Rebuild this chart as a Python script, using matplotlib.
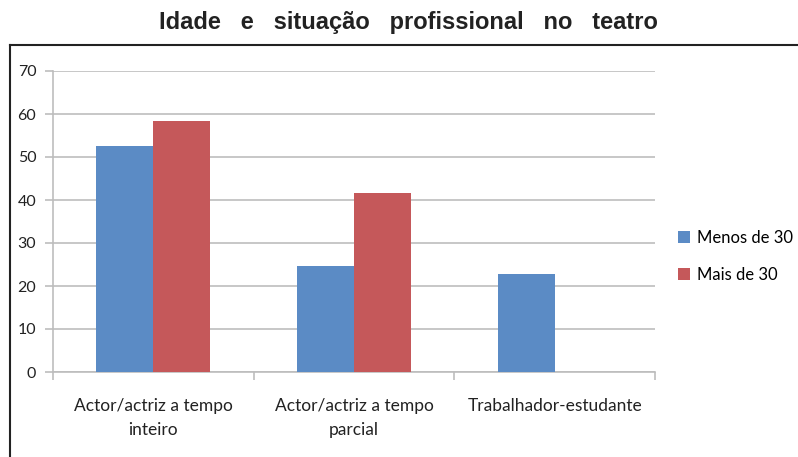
import matplotlib
matplotlib.use("Agg")
import matplotlib.pyplot as plt
from matplotlib.lines import Line2D
import numpy as np

categories = ["Actor/actriz a tempo\ninteiro", "Actor/actriz a tempo\nparcial", "Trabalhador-estudante"]
menos_30 = [52.6, 24.7, 22.8]
mais_30 = [58.4, 41.7, 0]
series_names = ["Menos de 30", "Mais de 30"]
yticks = [0, 10, 20, 30, 40, 50, 60, 70]

blue = "#5b8bc5"
red = "#c5585a"
grid = "#bdbdbd"
font = "Lato"

fig = plt.figure(figsize=(7.98, 4.57), dpi=100)
ax = fig.add_axes([53/798, 1-372/457, (655-53)/798, (372-71)/457])

x = np.arange(len(categories))
w = 0.284
ax.bar(x - w/2, menos_30, w, color=blue, label=series_names[0], zorder=3)
ax.bar(x + w/2, mais_30, w, color=red, label=series_names[1], zorder=3)

ax.set_xlim(-0.5, 2.5)
ax.set_ylim(0, 70)
ax.set_yticks(yticks)
ax.set_yticklabels([str(t) for t in yticks], fontfamily=font, fontsize=11.5, color="#222222")
ax.yaxis.grid(True, color=grid, linewidth=1.2, zorder=0)
ax.set_axisbelow(True)

ax.set_xticks([-0.5, 0.5, 1.5, 2.5])
ax.set_xticklabels([])
ax.set_xticks(x, minor=True)
ax.set_xticklabels(categories, minor=True, fontfamily=font, fontsize=12.5, color="#222222", linespacing=1.55)
ax.tick_params(axis="x", which="minor", length=0, pad=19)
ax.tick_params(axis="x", which="major", length=6, color=grid, width=1.2)
ax.tick_params(axis="y", length=6, color=grid, width=1.2, pad=6)

for s in ["top", "right"]:
    ax.spines[s].set_visible(False)
ax.spines["left"].set_color(grid)
ax.spines["bottom"].set_color(grid)
ax.spines["left"].set_linewidth(1.2)
ax.spines["bottom"].set_linewidth(1.2)

ax.legend(loc="center left", bbox_to_anchor=(1.014, 0.385), frameon=False,
          prop={"family": font, "size": 12}, handlelength=0.7, handleheight=0.7,
          handletextpad=0.4, labelspacing=1.25)

fig.text(408/798, 1-23/457, "Idade   e   situação   profissional   no   teatro", ha="center", va="center",
         fontfamily="Liberation Sans", fontweight="bold", fontsize=17, color="#222222")

# outer frame
fig.add_artist(Line2D([10/798, 10/798], [0, 1-45/457], transform=fig.transFigure, color="#222222", linewidth=1.5))
fig.add_artist(Line2D([10/798, 1], [1-45/457, 1-45/457], transform=fig.transFigure, color="#222222", linewidth=1.5))

fig.savefig("out.png", dpi=100)
